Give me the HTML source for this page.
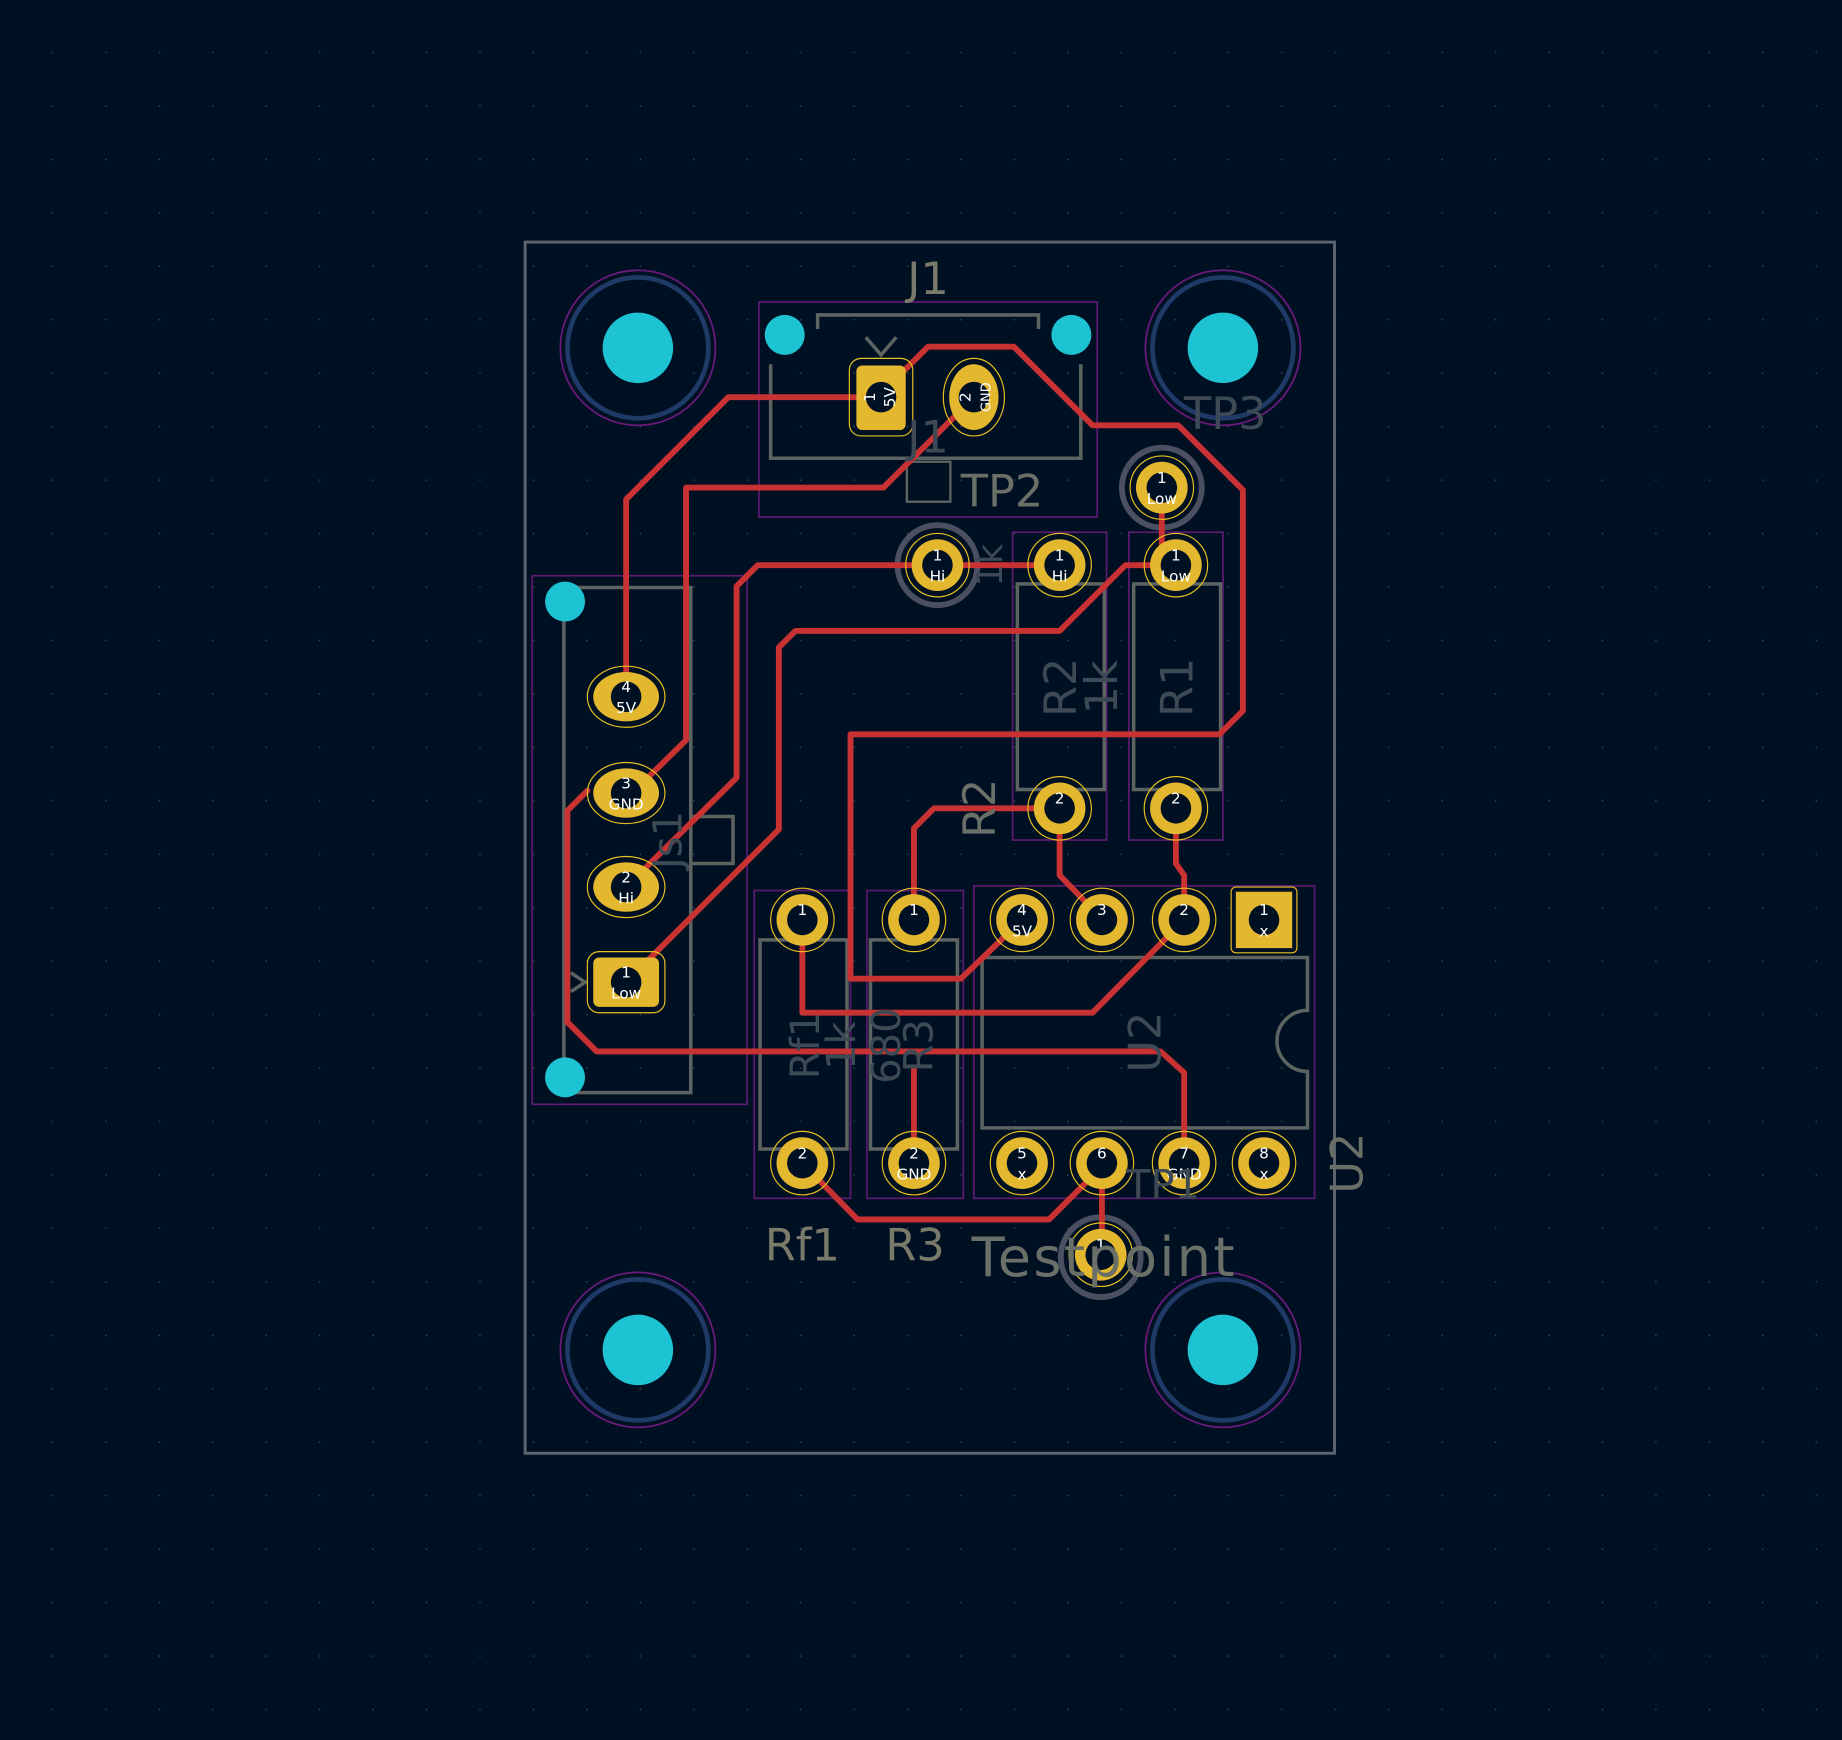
<!DOCTYPE html>
<html><head><meta charset="utf-8"><style>
html,body{margin:0;padding:0;background:#001023;}
svg{display:block;}
text{font-family:"DejaVu Sans","Liberation Sans",sans-serif;}
</style></head><body>
<svg width="1842" height="1740" viewBox="0 0 1568 1481" xmlns="http://www.w3.org/2000/svg">
<defs>
<pattern id="g" width="45.5" height="45.5" patternUnits="userSpaceOnUse" x="0" y="0">
<rect x="44" y="44" width="1.2" height="1.2" fill="#3a4a5a"/>
</pattern>
</defs>
<rect width="1568" height="1481" fill="#001023"/>
<rect width="1568" height="1481" fill="url(#g)"/>
<rect x="447" y="206" width="689" height="1031" fill="none" stroke="#5d6670" stroke-width="2.5"/>

<g>
<g transform="translate(543,296)"><circle r="66" fill="none" stroke="#6a1a7a" stroke-width="1.5"/><circle r="60" fill="none" stroke="#1f3a66" stroke-width="4"/><circle r="30" fill="#1ec3d3"/></g>
<g transform="translate(1041,296)"><circle r="66" fill="none" stroke="#6a1a7a" stroke-width="1.5"/><circle r="60" fill="none" stroke="#1f3a66" stroke-width="4"/><circle r="30" fill="#1ec3d3"/></g>
<g transform="translate(543,1149)"><circle r="66" fill="none" stroke="#6a1a7a" stroke-width="1.5"/><circle r="60" fill="none" stroke="#1f3a66" stroke-width="4"/><circle r="30" fill="#1ec3d3"/></g>
<g transform="translate(1041,1149)"><circle r="66" fill="none" stroke="#6a1a7a" stroke-width="1.5"/><circle r="60" fill="none" stroke="#1f3a66" stroke-width="4"/><circle r="30" fill="#1ec3d3"/></g>
</g>

<g fill="none" stroke="#5a1a6e" stroke-width="1.5">
<rect x="646" y="257" width="288" height="183"/>
<rect x="453" y="490" width="183" height="450"/>
<rect x="862" y="453" width="80" height="262"/>
<rect x="961" y="453" width="80" height="262"/>
<rect x="642" y="758" width="82" height="262"/>
<rect x="738" y="758" width="82" height="262"/>
<rect x="829" y="754" width="290" height="266"/>
</g>

<g fill="none" stroke="#5d6360" stroke-width="3">
<path d="M656 310 V390 H920 V310"/>
<path d="M696 280 V268 H884 V280"/>
<path d="M737 287 L750 302 L763 287"/>
<path d="M588 500 H480 V930 H588 Z" />
<path d="M588 695 H624 V735 H588"/>
<path d="M486 828 L498 836 L486 844"/>
<rect x="866" y="497" width="74" height="175"/>
<rect x="965" y="497" width="74" height="175"/>
<rect x="647" y="800" width="74" height="178"/>
<rect x="741" y="800" width="74" height="178"/>
<path d="M836 815 H1113 V860 A25 25 0 0 0 1113 912 V960 H836 Z"/>
<rect x="772" y="393" width="37" height="34" stroke-width="2"/>
</g>
<g fill="none" stroke="#4a5060" stroke-width="5">
<circle cx="798" cy="481" r="34"/>
<circle cx="989" cy="415" r="34"/>
<circle cx="937" cy="1070" r="34"/>
</g>

<g fill="#1ec3d3">
<circle cx="668" cy="285" r="17"/><circle cx="912" cy="285" r="17"/>
<circle cx="481" cy="512" r="17"/><circle cx="481" cy="917" r="17"/>
</g>

<g fill="none" stroke="#c83232" stroke-width="5" stroke-linejoin="round" stroke-linecap="round">
<path d="M750 338 H620 L533 425 V593"/>
<path d="M829 338 L752 415 H584 V630 L533 680"/>
<path d="M750 335 L790 295 H863 L930 362 H1003 L1058 417 V605 L1038 625 H724 V833 H818 L870 783"/>
<path d="M902 481 H645 L627 499 V662 L533 755"/>
<path d="M1001 481 H958 L902 537 H677 L663 551 V706 L533 836"/>
<path d="M989 415 V481"/>
<path d="M500 673 L483 690 V870 L508 895 H988 L1008 913 V990"/>
<path d="M902 688 V745 L938 782"/>
<path d="M1001 688 V735 L1008 745 V783"/>
<path d="M1008 783 L930 862 H683 V783"/>
<path d="M778 783 V705 L795 688 H902"/>
<path d="M778 910 V990"/>
<path d="M683 990 L730 1038 H893 L938 993 V1068"/>
</g>

<g>
<g fill="none" stroke="#e8c020" stroke-width="1">
<rect x="723" y="305" width="54" height="66" rx="10"/>
<ellipse cx="829" cy="338" rx="26" ry="33"/>
<ellipse cx="533" cy="593" rx="33" ry="26"/><ellipse cx="533" cy="675" rx="33" ry="26"/><ellipse cx="533" cy="755" rx="33" ry="26"/>
<rect x="500" y="810" width="66" height="52" rx="10"/>
</g>
<rect x="729" y="311" width="42" height="55" rx="5" fill="#e4b82e"/>
<ellipse cx="829" cy="338" rx="21" ry="28" fill="#e4b82e"/>
<ellipse cx="533" cy="593" rx="28" ry="21" fill="#e4b82e"/>
<ellipse cx="533" cy="675" rx="28" ry="21" fill="#e4b82e"/>
<ellipse cx="533" cy="755" rx="28" ry="21" fill="#e4b82e"/>
<rect x="505" y="815" width="56" height="42" rx="5" fill="#e4b82e"/>
<rect x="1052" y="759" width="48" height="48" fill="#e4b82e"/>
<g fill="#e4b82e">
<circle cx="798" cy="481" r="22"/><circle cx="902" cy="481" r="22"/><circle cx="1001" cy="481" r="22"/><circle cx="989" cy="415" r="22"/>
<circle cx="902" cy="688" r="22"/><circle cx="1001" cy="688" r="22"/>
<circle cx="683" cy="783" r="22"/><circle cx="778" cy="783" r="22"/><circle cx="870" cy="783" r="22"/><circle cx="938" cy="783" r="22"/><circle cx="1008" cy="783" r="22"/>
<circle cx="683" cy="990" r="22"/><circle cx="778" cy="990" r="22"/><circle cx="870" cy="990" r="22"/><circle cx="938" cy="990" r="22"/><circle cx="1008" cy="990" r="22"/><circle cx="1076" cy="990" r="22"/>
<circle cx="937" cy="1068" r="22"/>
</g>
<g fill="none" stroke="#e8c020" stroke-width="1">
<circle cx="798" cy="481" r="27"/><circle cx="902" cy="481" r="27"/><circle cx="1001" cy="481" r="27"/><circle cx="989" cy="415" r="27"/>
<circle cx="902" cy="688" r="27"/><circle cx="1001" cy="688" r="27"/>
<circle cx="683" cy="783" r="27"/><circle cx="778" cy="783" r="27"/><circle cx="870" cy="783" r="27"/><circle cx="938" cy="783" r="27"/><circle cx="1008" cy="783" r="27"/><rect x="1048" y="755" width="56" height="56" rx="4"/>
<circle cx="683" cy="990" r="27"/><circle cx="778" cy="990" r="27"/><circle cx="870" cy="990" r="27"/><circle cx="938" cy="990" r="27"/><circle cx="1008" cy="990" r="27"/><circle cx="1076" cy="990" r="27"/>
<circle cx="937" cy="1068" r="27"/>
</g>
<g fill="#001023">
<circle cx="750" cy="338" r="13"/><circle cx="829" cy="338" r="13"/>
<circle cx="533" cy="593" r="13"/><circle cx="533" cy="675" r="13"/><circle cx="533" cy="755" r="13"/><circle cx="533" cy="836" r="13"/>
<circle cx="798" cy="481" r="13"/><circle cx="902" cy="481" r="13"/><circle cx="1001" cy="481" r="13"/><circle cx="989" cy="415" r="13"/>
<circle cx="902" cy="688" r="13"/><circle cx="1001" cy="688" r="13"/>
<circle cx="683" cy="783" r="13"/><circle cx="778" cy="783" r="13"/><circle cx="870" cy="783" r="13"/><circle cx="938" cy="783" r="13"/><circle cx="1008" cy="783" r="13"/><circle cx="1076" cy="783" r="13"/>
<circle cx="683" cy="990" r="13"/><circle cx="778" cy="990" r="13"/><circle cx="870" cy="990" r="13"/><circle cx="938" cy="990" r="13"/><circle cx="1008" cy="990" r="13"/><circle cx="1076" cy="990" r="13"/>
<circle cx="937" cy="1068" r="13"/>
</g>
</g>

<g fill="#ffffff" font-size="13" text-anchor="middle">
<text transform="translate(745,338) rotate(-90)">1</text><text transform="translate(762,338) rotate(-90)">5V</text>
<text transform="translate(826,338) rotate(-90)">2</text><text transform="translate(843,338) rotate(-90)" font-size="11">GND</text>
<text x="533" y="589">4</text><text x="533" y="607">5V</text>
<text x="533" y="671">3</text><text x="533" y="689">GND</text>
<text x="533" y="751">2</text><text x="533" y="769">Hi</text>
<text x="533" y="832">1</text><text x="533" y="850">Low</text>
<text x="798" y="477">1</text><text x="798" y="495">Hi</text>
<text x="902" y="477">1</text><text x="902" y="495">Hi</text>
<text x="1001" y="477">1</text><text x="1001" y="495">Low</text>
<text x="989" y="411">1</text><text x="989" y="429">Low</text>
<text x="902" y="684">2</text><text x="1001" y="684">2</text>
<text x="683" y="779">1</text><text x="778" y="779">1</text>
<text x="870" y="779">4</text><text x="870" y="797">5V</text>
<text x="938" y="779">3</text><text x="1008" y="779">2</text>
<text x="1076" y="779">1</text><text x="1076" y="797">x</text>
<text x="683" y="986">2</text>
<text x="778" y="986">2</text><text x="778" y="1004">GND</text>
<text x="870" y="986">5</text><text x="870" y="1004">x</text>
<text x="938" y="986">6</text>
<text x="1008" y="986">7</text><text x="1008" y="1004">GND</text>
<text x="1076" y="986">8</text><text x="1076" y="1004">x</text>
<text x="937" y="1064">1</text>
</g>

<g fill="#6a6f68" text-anchor="middle">
<text x="790" y="250" font-size="38" fill="#7a7a6a">J1</text>
<text x="853" y="431" font-size="38">TP2</text>
<text x="1043" y="365" font-size="38" fill="#3d4a55">TP3</text>
<text x="790" y="385" font-size="38" fill="#3d4a55">J1</text>
<text x="683" y="1073" font-size="38" fill="#7a7a6a">Rf1</text>
<text x="779" y="1073" font-size="38" fill="#7a7a6a">R3</text>
<text x="940" y="1086" font-size="46" fill="#6a6f68" letter-spacing="2">Testpoint</text>
<text transform="translate(847,688) rotate(-90)" font-size="38" fill="#6a6f68">R2</text>
<text transform="translate(1160,990) rotate(-90)" font-size="38" fill="#6a6f68">U2</text>
<text transform="translate(988,887) rotate(-90)" font-size="38" fill="#3d4a55">U2</text>
<text transform="translate(916,585) rotate(-90)" font-size="38" fill="#3d4a55">R2</text>
<text transform="translate(951,585) rotate(-90)" font-size="38" fill="#3d4a55">1k</text>
<text transform="translate(1015,585) rotate(-90)" font-size="38" fill="#3d4a55">R1</text>
<text transform="translate(697,890) rotate(-90)" font-size="34" fill="#3d4a55">Rf1</text>
<text transform="translate(728,890) rotate(-90)" font-size="34" fill="#3d4a55">1k</text>
<text transform="translate(766,890) rotate(-90)" font-size="34" fill="#3d4a55">680</text>
<text transform="translate(794,890) rotate(-90)" font-size="34" fill="#3d4a55">R3</text>
<text transform="translate(580,715) rotate(-90)" font-size="34" fill="#3d4a55">Js1</text>
<text transform="translate(853,481) rotate(-90)" font-size="30" fill="#3d4a55">1k</text>
<text x="990" y="1020" font-size="34" fill="#3d4a55">TP1</text>
</g>
</svg>
</body></html>
